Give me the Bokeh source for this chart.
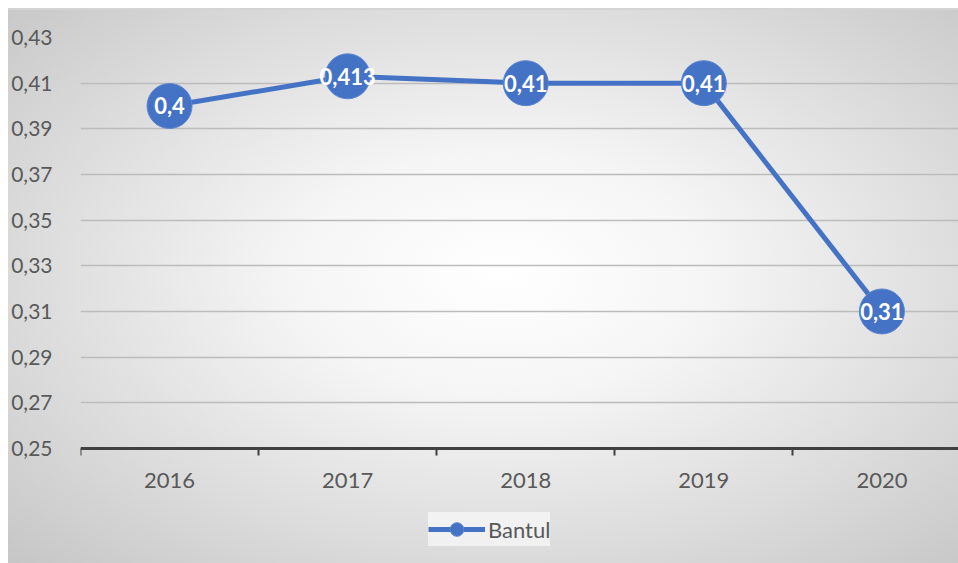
from bokeh.plotting import figure
from bokeh.models import FixedTicker, Legend, LegendItem, Range1d
from bokeh.core.properties import value
from bokeh.embed import file_html
from bokeh.resources import INLINE

years = ["2016", "2017", "2018", "2019", "2020"]
values = [0.4, 0.413, 0.41, 0.41, 0.31]
value_labels = ["0,4", "0,413", "0,41", "0,41", "0,31"]
y_ticks = [0.25, 0.27, 0.29, 0.31, 0.33, 0.35, 0.37, 0.39, 0.41, 0.43]
y_tick_labels = ["0,25", "0,27", "0,29", "0,31", "0,33", "0,35", "0,37", "0,39", "0,41", "0,43"]
series_name = "Bantul"

BLUE = "#4472C4"
TXT = "#595959"
FONT = "Lato"
Y_MIN = 0.25

idx = list(range(len(years)))

p = figure(width=950, height=555, output_backend="svg", toolbar_location=None,
           x_range=Range1d(-0.5, 4.43), y_range=Range1d(0.1996, 0.43),
           min_border_left=70, min_border_right=0, min_border_top=29, min_border_bottom=0)
p.background_fill_alpha = 0
p.border_fill_alpha = 0
p.outline_line_color = None
p.styles = {"background": "radial-gradient(ellipse at 52% 48%, #ffffff 0%, #f5f5f5 30%, #c6c6c6 100%)",
            "box-shadow": "inset 0 2px 0 #d4d4d4",
            "margin-left": "8px", "margin-top": "8px"}

# y axis
p.yaxis.ticker = FixedTicker(ticks=y_ticks)
p.yaxis.major_label_overrides = {t: l for t, l in zip(y_ticks, y_tick_labels)}
p.yaxis.axis_line_color = None
p.yaxis.major_tick_line_color = None
p.yaxis.minor_tick_line_color = None
p.yaxis.major_label_standoff = 22
p.yaxis.major_label_text_font = FONT
p.yaxis.major_label_text_font_size = "21px"
p.yaxis.major_label_text_color = TXT

# x axis, drawn at the bottom of the value range
p.xaxis.fixed_location = Y_MIN
p.xaxis.ticker = FixedTicker(ticks=idx, minor_ticks=[i - 0.5 for i in range(len(years) + 1)])
p.xaxis.major_label_overrides = {i: y for i, y in zip(idx, years)}
p.xaxis.axis_line_color = "#404040"
p.xaxis.axis_line_width = 3
p.xaxis.major_tick_out = 0
p.xaxis.major_tick_in = 0
p.xaxis.minor_tick_out = 7
p.xaxis.minor_tick_in = 0
p.xaxis.minor_tick_line_color = "#404040"
p.xaxis.minor_tick_line_width = 2
p.xaxis.major_label_standoff = 18
p.xaxis.major_label_text_font = FONT
p.xaxis.major_label_text_font_size = "22px"
p.xaxis.major_label_text_color = TXT

p.xgrid.visible = False
p.ygrid.ticker = FixedTicker(ticks=y_ticks)
p.ygrid.grid_line_color = "#bcbcbc"
p.ygrid.grid_line_width = 1.5

line_r = p.line(idx, values, line_width=5, line_color=BLUE)
scat_r = p.scatter(idx, values, size=45, fill_color=BLUE, line_color="#5a86d2", line_width=1)
p.text(x=idx, y=values, text=value_labels, text_align="center", text_baseline="middle",
       text_color="white", text_font=value(FONT), text_font_style="bold", text_font_size="22px")

legend = Legend(items=[LegendItem(label=series_name, renderers=[line_r, scat_r])],
                location=(348, 17), orientation="horizontal")
legend.background_fill_color = "#f4f4f4"
legend.background_fill_alpha = 0.85
legend.border_line_color = None
legend.glyph_width = 57
legend.glyph_height = 34
legend.label_height = 34
legend.label_standoff = 3
legend.padding = 8
legend.margin = 0
legend.label_text_font = FONT
legend.label_text_font_size = "22px"
legend.label_text_color = TXT
p.add_layout(legend, "center")

open("out.html", "w").write(file_html(p, INLINE))
